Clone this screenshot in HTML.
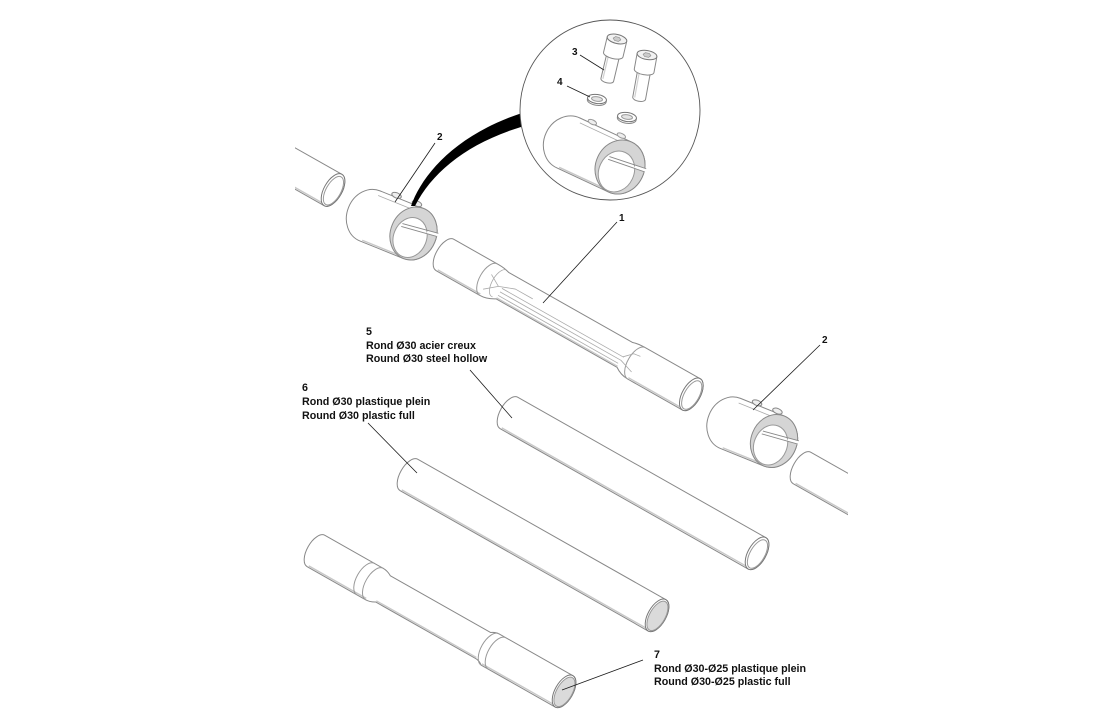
<!DOCTYPE html>
<html>
<head>
<meta charset="utf-8">
<style>
html,body{margin:0;padding:0;background:#fff;}
svg{display:block}
text{font-family:"Liberation Sans",Arial,sans-serif;font-weight:bold;fill:#111;}
</style>
</head>
<body>
<svg width="1100" height="710" viewBox="0 0 1100 710" xmlns="http://www.w3.org/2000/svg">
<defs>
<clipPath id="cl1"><rect x="295" y="0" width="805" height="710"/></clipPath>
<clipPath id="cl2"><rect x="0" y="0" width="848" height="710"/></clipPath>
</defs>
<rect x="0" y="0" width="1100" height="710" fill="#fff"/>
<g fill="none" stroke-linejoin="round" stroke-width="1">

<!-- top-left stub tube -->
<g clip-path="url(#cl1)"><g transform="translate(263.4,150.6) rotate(29.5)">
<path d="M-20,-18 L80,-18 A9 18 0 0 1 80,18 L-20,18 Z" fill="#fff" stroke="#888"/>
<line x1="-20" y1="16.5" x2="80" y2="16.5" stroke="#c8c8c8" stroke-width="1.4"/>
<ellipse cx="80" cy="0" rx="9" ry="18" fill="#fff" stroke="#777"/>
<ellipse cx="80.7" cy="0.4" rx="7.4" ry="15.8" fill="#fff" stroke="#999"/>
</g></g>

<!-- bottom-right stub tube -->
<g clip-path="url(#cl2)"><g transform="translate(802,468) rotate(29.5)">
<path d="M0,-18 L110,-18 L110,18 L0,18 A9 18 0 0 1 0,-18Z" fill="#fff" stroke="#888"/>
<line x1="2" y1="16.5" x2="110" y2="16.5" stroke="#c8c8c8" stroke-width="1.4"/>
</g></g>

<!-- tube 1 -->
<g transform="translate(445,255) rotate(29.5)">
<path d="M0,-18 L52,-18 Q58,-18 64,-16.2 L206,-16.2 Q212,-18 218,-18 L283,-18 A9 18 0 0 1 283,18 L220,18 Q212,18 205,13 L66,13 Q58,18 50,18 L0,18 A9 18 0 0 1 0,-18Z" fill="#fff" stroke="#888"/>
<line x1="1" y1="16.5" x2="50" y2="16.5" stroke="#c8c8c8" stroke-width="1.4"/>
<line x1="220" y1="16.5" x2="283" y2="16.5" stroke="#c8c8c8" stroke-width="1.4"/>
<line x1="66" y1="11.8" x2="205" y2="11.8" stroke="#c8c8c8" stroke-width="1.2"/>
<path d="M50,-18 A9 18 0 0 0 50,18 M220,-18 A9 18 0 0 0 220,18" stroke="#999"/>
<path d="M60,-17 A7 15 0 0 0 62,13" stroke="#aaa" stroke-width="0.8"/>
<path d="M66,1 L206,1 M66,5 L205,5 M66,9 L204,9 M50,-6 L62,1 L50,11 M62,1 L78,-5 L98,-5 M205,1 L213,-7 L220,-8 M205,5 L220,10" stroke="#aaa" stroke-width="0.8"/>
<ellipse cx="283" cy="0" rx="9" ry="18" fill="#fff" stroke="#777"/>
<ellipse cx="283.7" cy="0.4" rx="7.4" ry="15.8" fill="#fff" stroke="#999"/>
</g>

<!-- tube 5 (hollow) -->
<g transform="translate(509,413) rotate(29.5)">
<path d="M0,-18 L285,-18 A9 18 0 0 1 285,18 L0,18 A9 18 0 0 1 0,-18Z" fill="#fff" stroke="#888"/>
<line x1="1" y1="16.5" x2="285" y2="16.5" stroke="#c8c8c8" stroke-width="1.4"/>
<ellipse cx="285" cy="0" rx="9" ry="18" fill="#fff" stroke="#777"/>
<ellipse cx="285.7" cy="0.4" rx="7.4" ry="15.8" fill="#fff" stroke="#999"/>
</g>

<!-- tube 6 (solid) -->
<g transform="translate(409,475) rotate(29.5)">
<path d="M0,-18 L285,-18 A9 18 0 0 1 285,18 L0,18 A9 18 0 0 1 0,-18Z" fill="#fff" stroke="#888"/>
<line x1="1" y1="16.5" x2="285" y2="16.5" stroke="#c8c8c8" stroke-width="1.4"/>
<ellipse cx="285" cy="0" rx="9" ry="18" fill="#fff" stroke="#777"/>
<ellipse cx="285.6" cy="0.3" rx="7.8" ry="16.3" fill="#dadada" stroke="#999"/>
</g>

<!-- tube 7 (stepped solid) -->
<g transform="translate(316,551) rotate(29.5)">
<path d="M0,-18 L67,-18 Q72,-18 77,-15 L192,-15 Q196,-18 200,-18 L285,-18 A9 18 0 0 1 285,18 L200,18 Q196,15 192,15 L77,15 Q72,18 67,18 L0,18 A9 18 0 0 1 0,-18Z" fill="#fff" stroke="#888"/>
<line x1="1" y1="16.5" x2="67" y2="16.5" stroke="#c8c8c8" stroke-width="1.4"/>
<line x1="77" y1="13.6" x2="192" y2="13.6" stroke="#c8c8c8" stroke-width="1.3"/>
<line x1="200" y1="16.5" x2="285" y2="16.5" stroke="#c8c8c8" stroke-width="1.4"/>
<path d="M57,-18 A9 18 0 0 0 57,18 M67,-18 A9 18 0 0 0 67,18 M200,-18 A9 18 0 0 0 200,18 M208,-18 A9 18 0 0 0 208,18" stroke="#999"/>
<ellipse cx="285" cy="0" rx="9" ry="18" fill="#fff" stroke="#777"/>
<ellipse cx="285.6" cy="0.3" rx="7.8" ry="16.3" fill="#dadada" stroke="#999"/>
</g>

<!-- upper clamp -->
<g transform="translate(413.5,233.5) rotate(22)">
<path d="M-47,-27 L0,-27 A23 27 0 0 1 0,27 L-47,27 A23 27 0 0 1 -47,-27Z" fill="#fff" stroke="#888"/>
<line x1="-45" y1="25.5" x2="0" y2="25.5" stroke="#c8c8c8" stroke-width="1.4"/>
<line x1="-47" y1="-22" x2="-3" y2="-22" stroke="#aaa" stroke-width="0.8"/>
<ellipse cx="-30" cy="-29" rx="5" ry="2.6" fill="#eee" stroke="#888"/>
<ellipse cx="-8" cy="-29" rx="5" ry="2.6" fill="#eee" stroke="#888"/>
<ellipse cx="0" cy="0" rx="23" ry="27" fill="#d5d5d5" stroke="#888"/>
<ellipse cx="-1.7" cy="5" rx="16.5" ry="20.5" fill="#fff" stroke="#999"/>
<polygon points="12,-8 23,-9.5 23,-5.5 12,-4.5" fill="#fff"/>
<path d="M-14,-5 L23,-9.5 M-14,-2 L23,-6" stroke="#888" stroke-width="0.9"/>
</g>

<!-- lower clamp -->
<g transform="translate(774,441) rotate(22)">
<path d="M-47,-27 L0,-27 A23 27 0 0 1 0,27 L-47,27 A23 27 0 0 1 -47,-27Z" fill="#fff" stroke="#888"/>
<line x1="-45" y1="25.5" x2="0" y2="25.5" stroke="#c8c8c8" stroke-width="1.4"/>
<line x1="-47" y1="-22" x2="-3" y2="-22" stroke="#aaa" stroke-width="0.8"/>
<ellipse cx="-30" cy="-29" rx="5" ry="2.6" fill="#eee" stroke="#888"/>
<ellipse cx="-8" cy="-29" rx="5" ry="2.6" fill="#eee" stroke="#888"/>
<ellipse cx="0" cy="0" rx="23" ry="27" fill="#d5d5d5" stroke="#888"/>
<ellipse cx="-1.7" cy="5" rx="16.5" ry="20.5" fill="#fff" stroke="#999"/>
<polygon points="12,-8 23,-9.5 23,-5.5 12,-4.5" fill="#fff"/>
<path d="M-14,-5 L23,-9.5 M-14,-2 L23,-6" stroke="#888" stroke-width="0.9"/>
</g>

<!-- swoosh -->
<path d="M411,206 C422,175 455,135 522,113 L521,127 C468,143 432,172 415,206 Z" fill="#000" stroke="none"/>

<!-- detail circle -->
<circle cx="610" cy="110" r="90" fill="#fff" stroke="#555" stroke-width="0.9"/>

<!-- enlarged clamp -->
<g transform="translate(620,167) rotate(25)">
<path d="M-57,-27.5 L0,-27.5 A24.4 27.5 0 0 1 0,27.5 L-57,27.5 A24.4 27.5 0 0 1 -57,-27.5Z" fill="#fff" stroke="#888"/>
<line x1="-55" y1="26" x2="0" y2="26" stroke="#c8c8c8" stroke-width="1.4"/>
<line x1="-55" y1="-23" x2="-3" y2="-23" stroke="#aaa" stroke-width="0.8"/>
<ellipse cx="-44" cy="-29" rx="4.5" ry="2.2" fill="#eee" stroke="#999"/>
<ellipse cx="-12" cy="-29" rx="4.5" ry="2.2" fill="#eee" stroke="#999"/>
<ellipse cx="0" cy="0" rx="24.4" ry="27.5" fill="#d5d5d5" stroke="#888"/>
<ellipse cx="-1.3" cy="5.6" rx="17.5" ry="21" fill="#fff" stroke="#999"/>
<polygon points="13,-8 24.5,-9.5 24.5,-5.5 13,-4.5" fill="#fff"/>
<path d="M-14,-5 L24.5,-9.5 M-14,-2 L24.5,-6" stroke="#888" stroke-width="0.9"/>
</g>

<!-- screw A -->
<g transform="translate(617,39) rotate(13.4)">
<path d="M-6.5,17 L-6.5,42 A6.5 3 0 0 0 6.5,42 L6.5,17 Z" fill="#fff" stroke="#888"/>
<line x1="-4.5" y1="19" x2="-4.5" y2="42" stroke="#d0d0d0" stroke-width="1.2"/>
<path d="M-10,0 L-10,16 A10 4 0 0 0 10,16 L10,0 Z" fill="#fff" stroke="#888"/>
<ellipse cx="0" cy="0" rx="10" ry="4.5" fill="#f2f2f2" stroke="#777"/>
<polygon points="-4,0 -2,-2 2,-2 4,0 2,2 -2,2" fill="#ccc" stroke="#888" stroke-width="0.6"/>
</g>

<!-- screw B -->
<g transform="translate(647,55) rotate(10.3)">
<path d="M-6.5,17 L-6.5,44 A6.5 3 0 0 0 6.5,44 L6.5,17 Z" fill="#fff" stroke="#888"/>
<line x1="-4.5" y1="19" x2="-4.5" y2="44" stroke="#d0d0d0" stroke-width="1.2"/>
<path d="M-10,0 L-10,16 A10 4 0 0 0 10,16 L10,0 Z" fill="#fff" stroke="#888"/>
<ellipse cx="0" cy="0" rx="10" ry="4.5" fill="#f2f2f2" stroke="#777"/>
<polygon points="-4,0 -2,-2 2,-2 4,0 2,2 -2,2" fill="#ccc" stroke="#888" stroke-width="0.6"/>
</g>

<!-- washers -->
<g transform="translate(597,99) rotate(8)">
<path d="M-9.5,0 L-9.5,1.8 A9.5 4.5 0 0 0 9.5,1.8 L9.5,0" fill="#fff" stroke="#888"/>
<ellipse cx="0" cy="0" rx="9.5" ry="4.5" fill="#fff" stroke="#777"/>
<ellipse cx="0" cy="0" rx="5.5" ry="2.3" fill="#e4e4e4" stroke="#999"/>
</g>
<g transform="translate(627,117) rotate(8)">
<path d="M-9.5,0 L-9.5,1.8 A9.5 4.5 0 0 0 9.5,1.8 L9.5,0" fill="#fff" stroke="#888"/>
<ellipse cx="0" cy="0" rx="9.5" ry="4.5" fill="#fff" stroke="#777"/>
<ellipse cx="0" cy="0" rx="5.5" ry="2.3" fill="#e4e4e4" stroke="#999"/>
</g>

<!-- leaders -->
<g stroke="#1a1a1a" stroke-width="0.8">
<line x1="617" y1="222" x2="543" y2="303"/>
<line x1="435" y1="143" x2="395" y2="202"/>
<line x1="820" y1="345" x2="753" y2="410"/>
<line x1="580" y1="55" x2="604" y2="70"/>
<line x1="567" y1="86" x2="590" y2="97"/>
<line x1="470" y1="370" x2="512" y2="418"/>
<line x1="368" y1="423" x2="417" y2="473"/>
<line x1="643" y1="660" x2="562" y2="690"/>
</g>
</g>

<!-- labels -->
<text x="619" y="221" font-size="10">1</text>
<text x="437" y="140" font-size="10">2</text>
<text x="822" y="343" font-size="10">2</text>
<text x="572" y="55" font-size="10">3</text>
<text x="557" y="85" font-size="10">4</text>

<text x="366" y="335" font-size="10.7">5</text>
<text x="366" y="349" font-size="10.7">Rond Ø30 acier creux</text>
<text x="366" y="362" font-size="10.7">Round Ø30 steel hollow</text>

<text x="302" y="391" font-size="10.7">6</text>
<text x="302" y="405" font-size="10.7">Rond Ø30 plastique plein</text>
<text x="302" y="419" font-size="10.7">Round Ø30 plastic full</text>

<text x="654" y="658" font-size="10.7">7</text>
<text x="654" y="672" font-size="10.7">Rond Ø30-Ø25 plastique plein</text>
<text x="654" y="685" font-size="10.7">Round Ø30-Ø25 plastic full</text>
</svg>
</body>
</html>
